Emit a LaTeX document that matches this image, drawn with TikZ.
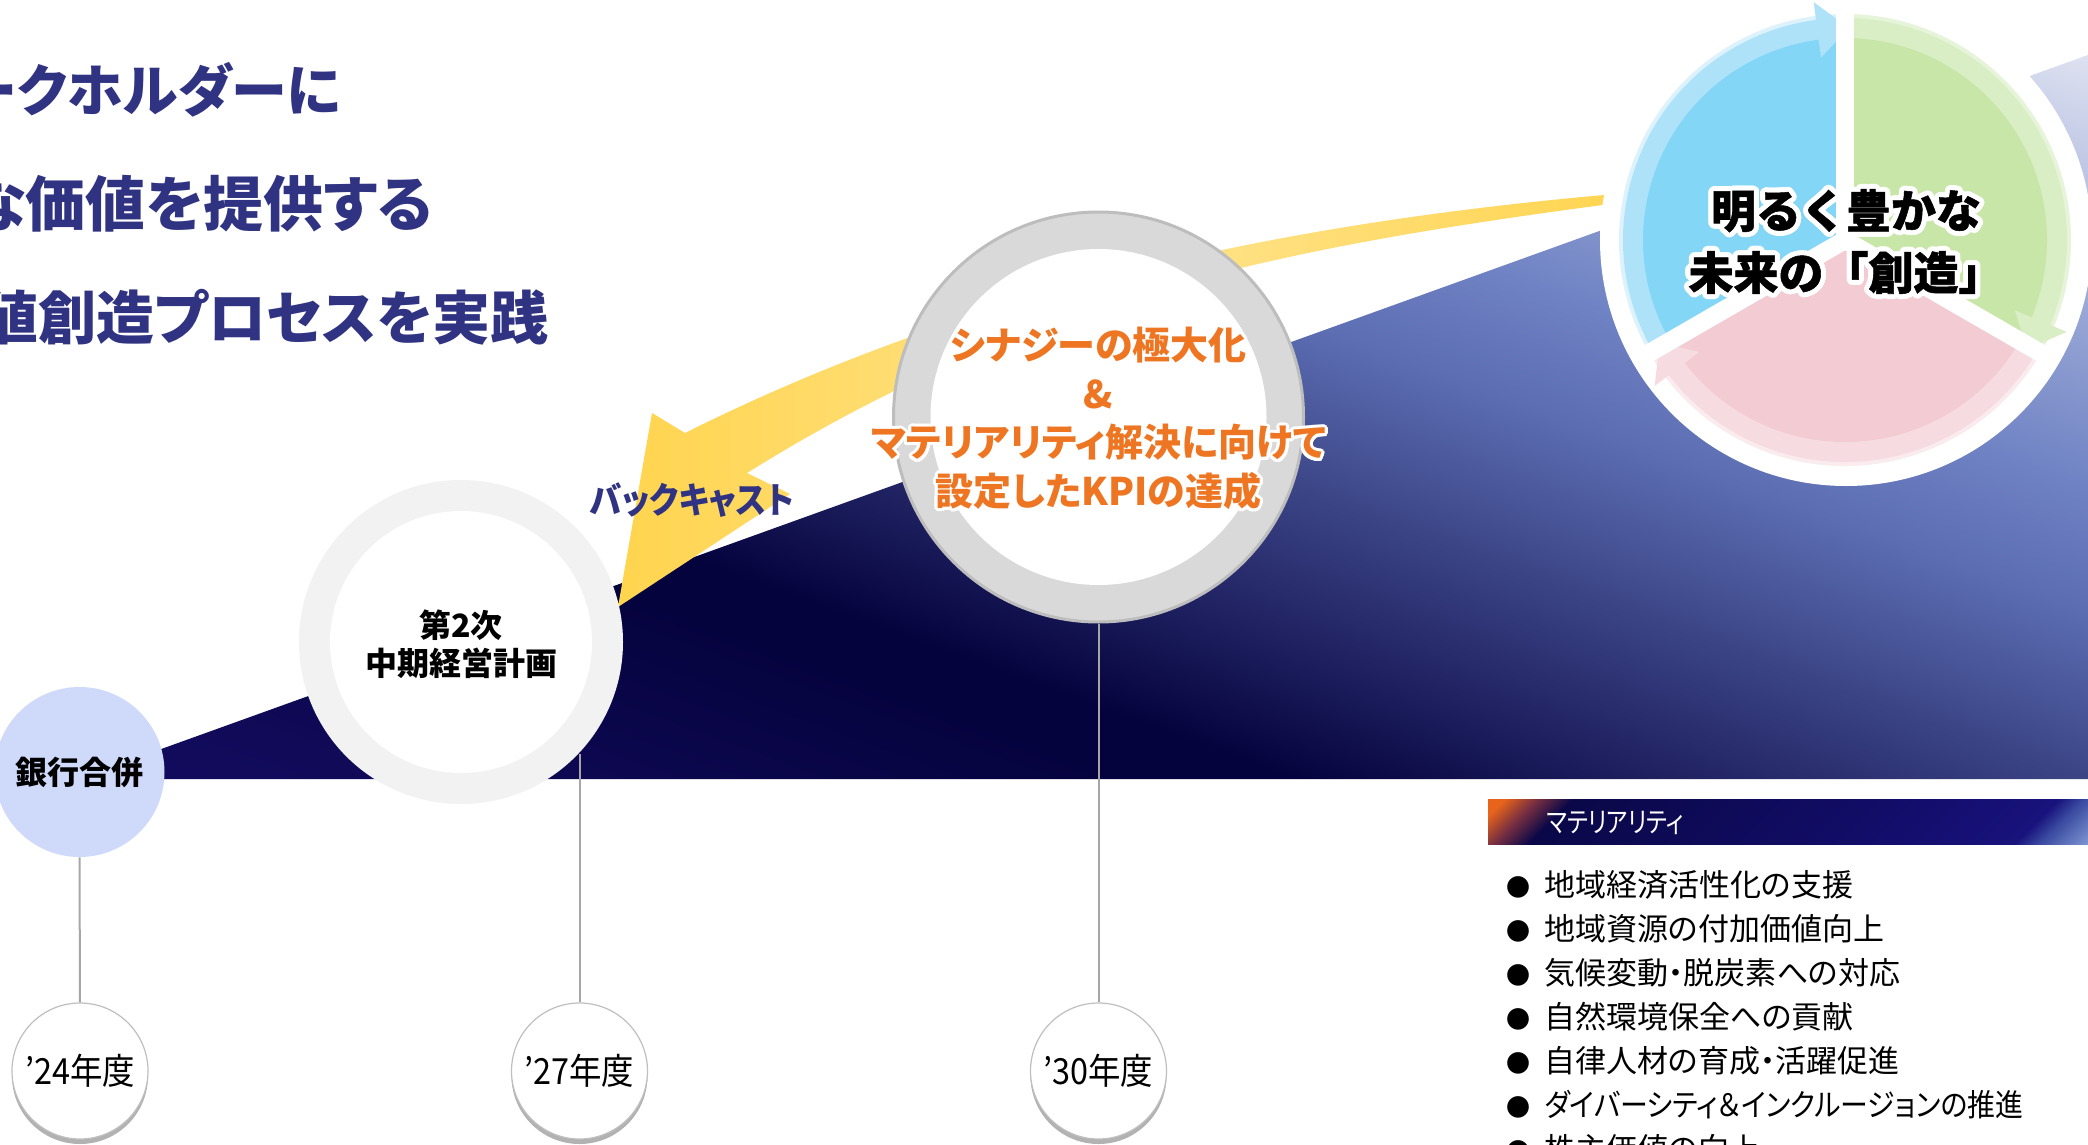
\documentclass[tikz,border=0pt]{standalone}
\usepackage{fontspec}
\usepackage{graphicx}
\setmainfont{Noto Sans CJK JP}[RawFeature={+palt}]
\newfontfamily\jpfull{Noto Sans CJK JP}
\newfontfamily\jpheavy{Noto Sans CJK JP}[BoldFeatures={FakeBold=1.2}]
\newfontfamily\jpnar{Noto Sans CJK JP}[FakeStretch=0.82,RawFeature={+palt}]
\newfontfamily\jpmid{Noto Sans CJK JP}[FakeStretch=0.9,RawFeature={+palt}]
\usepackage{contour}
\contournumber{24}
\usetikzlibrary{shadows,calc}

\definecolor{titlec}{HTML}{2F3382}
\definecolor{nv1}{HTML}{140D62}
\definecolor{nv2}{HTML}{120B5C}
\definecolor{nv3}{HTML}{05033E}
\definecolor{nv4}{HTML}{272A6B}
\definecolor{nv5}{HTML}{3B4586}
\definecolor{nv6}{HTML}{5C6DB2}
\definecolor{nv7}{HTML}{7083C4}
\definecolor{nv8}{HTML}{A0AED9}
\definecolor{nv9}{HTML}{DCE0F0}
\definecolor{hd0}{HTML}{E8641B}
\definecolor{hd1}{HTML}{7A3040}
\definecolor{hd2}{HTML}{0A0848}
\definecolor{hd3}{HTML}{120D68}
\definecolor{hd4}{HTML}{18127C}
\definecolor{hd5}{HTML}{3A4AA0}
\definecolor{hd6}{HTML}{8098D4}
\definecolor{yA}{HTML}{FFD44E}
\definecolor{yB}{HTML}{FFE48F}
\definecolor{kpiorange}{HTML}{EE7623}
\definecolor{ringgray}{HTML}{D9D9D9}
\definecolor{ringedge}{HTML}{BDBDBD}
\definecolor{ringtwo}{HTML}{F2F2F2}
\definecolor{mergec}{HTML}{CFDAFB}
\definecolor{connc}{HTML}{A6A6A6}
\definecolor{yearedge}{HTML}{BFBFBF}
\definecolor{bluem}{HTML}{84D6F7}
\definecolor{blueb}{HTML}{AEE2F9}
\definecolor{bluer}{HTML}{DDF2FC}
\definecolor{greenm}{HTML}{C9E6A9}
\definecolor{greenb}{HTML}{D9EEC4}
\definecolor{greenr}{HTML}{E6F4DA}
\definecolor{pinkm}{HTML}{F3CBD2}
\definecolor{pinkb}{HTML}{F6DCE1}
\definecolor{pinkr}{HTML}{F9EBEE}

\pgfdeclareverticalshading{navyV}{100bp}{color(0bp)=(nv1); color(32.5bp)=(nv1); color(36.4bp)=(nv2); color(43.2bp)=(nv3); color(44.5bp)=(nv3); color(48.3bp)=(nv4); color(50.7bp)=(nv5); color(54.25bp)=(nv6); color(57bp)=(nv7); color(61.4bp)=(nv8); color(66bp)=(nv9); color(100bp)=(nv9)}
\pgfdeclareverticalshading{hdrV}{100bp}{color(0bp)=(hd0); color(33bp)=(hd0); color(34.8bp)=(hd1); color(36.8bp)=(hd2); color(55bp)=(hd3); color(63.8bp)=(hd4); color(65.2bp)=(hd5); color(68bp)=(hd6); color(100bp)=(hd6)}

\newcommand{\bul}{{\jpfull\fontsize{12pt}{12pt}\selectfont ●}}

\tikzset{
  titlet/.style={font=\fontsize{29pt}{29pt}\selectfont\bfseries, text=titlec, inner sep=0pt, anchor=east},
  conn/.style={draw=connc, line width=1pt},
  yearc/.style={circle, fill=white, draw=yearedge, line width=0.6pt, minimum size=68pt, inner sep=0pt,
    font=\jpmid\fontsize{18pt}{18pt}\selectfont,
    drop shadow={shadow xshift=0pt, shadow yshift=-2.5pt, opacity=0.3, fill=black}},
  listt/.style={font=\fontsize{15.5pt}{15.5pt}\selectfont, text=black, inner sep=0pt, anchor=west},
  kpit/.style={font=\fontsize{19pt}{24.3pt}\selectfont\bfseries, text=kpiorange, align=center, inner sep=0pt},
  blackb/.style={font=\fontsize{16pt}{19pt}\selectfont\bfseries, text=black, align=center, inner sep=0pt},
}

\begin{document}
\begin{tikzpicture}[x=0.5pt,y=-0.5pt]
\useasboundingbox (0,0) rectangle (2088,1145);
\fill[white] (0,0) rectangle (2088,1145);

% rising navy area
\begin{scope}
  \clip (78,779) -- (2088,779) -- (2088,55) -- cycle;
  \shade[shading=navyV, shading angle=-20] (0,-650) rectangle (2200,1550);
\end{scope}

% backcast arrow
\shade[left color=yA, right color=yA, middle color=yB]
  (685,433) .. controls (985,283) and (1304,219) .. (1640,192)
  -- (1640,200) .. controls (1304,244) and (1040,290) .. (747,473)
  -- (790,494) -- (618,607) -- (652,413) -- cycle;
\node[font=\jpmid\fontsize{18pt}{18pt}\selectfont\bfseries, text=titlec, inner sep=0pt] (back) at (692,500) {バックキャスト};

% title
\node[titlet, font=\fontsize{28pt}{28pt}\selectfont\bfseries] (t1) at (341,90) {ークホルダーに};
\node[titlet, font=\fontsize{30pt}{30pt}\selectfont\bfseries] (t2) at (433,204) {な価値を提供する};
\node[titlet] (t3) at (549,317) {値創造プロセスを実践};

% vision circle
\node[circle, fill=white, minimum size=246pt, inner sep=0pt] (vision) at (1846,240) {};
\coordinate (pc) at (1845,240);
\foreach \a/\b/\ma/\mb/\mc in {150/270/bluem/blueb/bluer, 270/390/greenm/greenb/greenr, 30/150/pinkm/pinkb/pinkr}{
  \fill[\mc] (pc) -- ++(\a:226) arc[start angle=\a, end angle=\b, radius=226] -- cycle;
  \fill[\mb] (pc) -- ++(\a:222) arc[start angle=\a, end angle=\b, radius=222] -- cycle;
  \fill[\ma] (pc) -- ++(\a:202) arc[start angle=\a, end angle=\b, radius=202] -- cycle;
  \fill[\mb] ($(pc)+({\b-7.5}:184)$) -- ($(pc)+({\b-7.5}:240)$) -- ($(pc)+({\b+1}:212)$) -- cycle;
}
\foreach \g in {30,150,270} \draw[white, line width=9pt] (pc) -- ++(\g:240);
\node[font=\jpheavy\fontsize{22.5pt}{31pt}\selectfont\bfseries, align=center, inner sep=0pt] (visiontxt) at (1846,244)
  {\contourlength{2.5pt}\contour{white}{明るく豊かな}\\\contourlength{2.5pt}\contour{white}{未来の「創造」}};

% KPI ring
\node[circle, fill=ringgray, draw=ringedge, line width=1.5pt, minimum size=205pt, inner sep=0pt] (kpi) at (1098.5,417) {};
\node[circle, fill=white, minimum size=168pt, inner sep=0pt] (kpiin) at (1098.5,417) {};
\node[kpit] (kpitxt) at (1098.5,420)
  {\contourlength{1.5pt}\contour{white}{シナジーの極大化}\\\contourlength{1.5pt}\contour{white}{\&}\\\contourlength{1.5pt}\contour{white}{マテリアリティ解決に向けて}\\\contourlength{1.5pt}\contour{white}{設定したKPIの達成}};

% plan ring
\node[circle, fill=ringtwo, minimum size=162pt, inner sep=0pt] (plan) at (461,642) {};
\node[circle, fill=white, minimum size=131pt, inner sep=0pt] (planin) at (461,642) {};
\node[blackb] (plantxt) at (461,644) {第2次\\中期経営計画};

% merger
\node[circle, fill=mergec, minimum size=85pt, inner sep=0pt, font=\fontsize{16pt}{16pt}\selectfont\bfseries] (merge) at (79.5,772) {銀行合併};

% year circles and connectors
\node[yearc] (y24) at (80,1071) {’24年度};
\node[yearc] (y27) at (579.5,1071) {’27年度};
\node[yearc] (y30) at (1098.5,1071) {’30年度};
\coordinate (p27) at (579.5,754);
\draw[conn] (merge.south) -- (y24.north);
\draw[conn] (p27) -- (y27.north);
\draw[conn] (kpi.south) -- (y30.north);

% materiality header
\begin{scope}
  \clip (1488,799) rectangle (2088,844);
  \shade[shading=hdrV, shading angle=-135] (1468,501.5) rectangle (2108,1141.5);
\end{scope}
\node[font=\jpnar\fontsize{14pt}{14pt}\selectfont, text=white, inner sep=0pt, anchor=west] (hdr) at (1546,823) {マテリアリティ};

% list
\node[listt] (m1) at (1506,885) {\makebox[19pt][l]{\bul}地域経済活性化の支援};
\node[listt] (m2) at (1506,929) {\makebox[19pt][l]{\bul}地域資源の付加価値向上};
\node[listt] (m3) at (1506,973) {\makebox[19pt][l]{\bul}気候変動・脱炭素への対応};
\node[listt] (m4) at (1506,1017) {\makebox[19pt][l]{\bul}自然環境保全への貢献};
\node[listt] (m5) at (1506,1061) {\makebox[19pt][l]{\bul}自律人材の育成・活躍促進};
\node[listt] (m6) at (1506,1105) {\makebox[19pt][l]{\bul}\scalebox{0.9}[1]{ダイバーシティ＆インクルージョンの推進}};
\node[listt] (m7) at (1506,1149) {\makebox[19pt][l]{\bul}株主価値の向上};
\end{tikzpicture}
\end{document}
